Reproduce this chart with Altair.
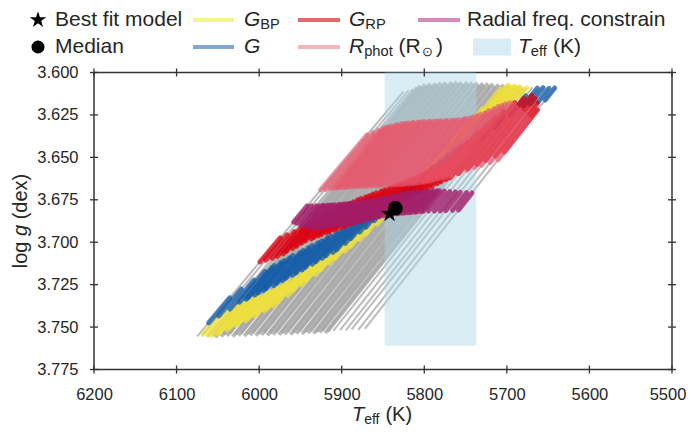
import altair as alt
import numpy as np
import pandas as pd

FONT = "Liberation Sans"
TXT = "#262626"

# ---------------- data ----------------
X_TICKS = [6200, 6100, 6000, 5900, 5800, 5700, 5600, 5500]
Y_TICKS = [3.600, 3.625, 3.650, 3.675, 3.700, 3.725, 3.750, 3.775]

# evolutionary tracks: (Teff, logg) at the hot/bottom end and at the cool/top end
TRACK_TEFF_BOTTOM = [6075, 6069, 6063, 6057, 6053, 6050, 6046, 6043, 6039, 6036,
                     6032, 6029, 6025, 6022, 6018, 6015, 6011, 6008, 6004, 6001,
                     5997, 5994, 5990, 5987, 5983, 5980, 5976, 5973, 5969, 5966,
                     5962, 5959, 5955, 5952, 5948, 5945, 5941, 5938, 5934, 5931,
                     5927, 5924, 5920, 5917, 5910, 5902, 5895, 5888, 5880, 5872]
TRACK_LOGG_BOTTOM = [3.7555, 3.7550, 3.7556, 3.7548, 3.7560, 3.7542, 3.7556, 3.7545, 3.7552, 3.7538,
                     3.7557, 3.7543, 3.7550, 3.7536, 3.7553, 3.7540, 3.7548, 3.7534, 3.7551, 3.7538,
                     3.7546, 3.7532, 3.7549, 3.7536, 3.7544, 3.7530, 3.7546, 3.7534, 3.7541, 3.7528,
                     3.7544, 3.7531, 3.7538, 3.7526, 3.7541, 3.7529, 3.7535, 3.7524, 3.7538, 3.7527,
                     3.7532, 3.7522, 3.7535, 3.7525, 3.7521, 3.7518, 3.7520, 3.7514, 3.7516, 3.7510]
TRACK_TEFF_TOP = [5825, 5819, 5814, 5809, 5805, 5803, 5799, 5796, 5793, 5790,
                  5786, 5784, 5780, 5777, 5774, 5771, 5767, 5765, 5761, 5758,
                  5755, 5752, 5748, 5746, 5742, 5739, 5736, 5733, 5729, 5727,
                  5723, 5720, 5717, 5714, 5710, 5708, 5704, 5701, 5698, 5695,
                  5691, 5689, 5685, 5682, 5676, 5669, 5663, 5656, 5649, 5642]
TRACK_LOGG_TOP = [3.6112, 3.6105, 3.6098, 3.6090, 3.6078, 3.6085, 3.6070, 3.6080, 3.6066, 3.6076,
                  3.6062, 3.6074, 3.6060, 3.6072, 3.6058, 3.6070, 3.6056, 3.6068, 3.6055, 3.6066,
                  3.6057, 3.6068, 3.6056, 3.6070, 3.6058, 3.6072, 3.6060, 3.6074, 3.6062, 3.6076,
                  3.6064, 3.6078, 3.6066, 3.6080, 3.6070, 3.6082, 3.6072, 3.6085, 3.6076, 3.6088,
                  3.6080, 3.6090, 3.6084, 3.6092, 3.6090, 3.6088, 3.6092, 3.6089, 3.6093, 3.6091]

# constraint bands: for a track starting at Teff, the logg range that satisfies it
GBP_TRACK_TEFF = [6072, 6056, 6035, 6011, 5987, 5963, 5951, 5943, 5938, 5914, 5904]
GBP_LOGG_FROM = [3.7540, 3.7552, 3.7475, 3.7375, 3.7163, 3.6922, 3.6568, 3.6327, 3.6221, 3.6162, 3.6133]
GBP_LOGG_TO = [3.7446, 3.7375, 3.7316, 3.7210, 3.7010, 3.6775, 3.6456, 3.6133, 3.6044, 3.6044, 3.6044]

G_TRACK_TEFF = [6075, 6056, 6035, 6011, 5987, 5963, 5951, 5938, 5914, 5896, 5872]
G_LOGG_FROM = [3.7475, 3.7346, 3.7269, 3.7163, 3.7045, 3.6816, 3.6692, 3.6574, 3.6362, 3.6197, 3.6162]
G_LOGG_TO = [3.7328, 3.7163, 3.7075, 3.6975, 3.6881, 3.6692, 3.6586, 3.6456, 3.6327, 3.6044, 3.6044]

GRP_TRACK_TEFF = [6075, 6056, 6035, 6011, 5987, 5963, 5951, 5938, 5926, 5914, 5896, 5884, 5872]
GRP_LOGG_FROM = [3.7116, 3.7081, 3.6987, 3.6928, 3.6875, 3.6798, 3.6745, 3.6698, 3.6651, 3.6610, 3.6545, 3.6504, 3.6468]
GRP_LOGG_TO = [3.6975, 3.6916, 3.6822, 3.6751, 3.6692, 3.6633, 3.6586, 3.6515, 3.6339, 3.6191, 3.6133, 3.6162, 3.6221]

RPHOT_TRACK_TEFF = [6075, 6056, 6035, 6011, 5987, 5963, 5951, 5938, 5926, 5914, 5896, 5872]
RPHOT_LOGG_FROM = [3.6692, 3.6680, 3.6674, 3.6668, 3.6663, 3.6657, 3.6651, 3.6639, 3.6621, 3.6604, 3.6562, 3.6515]
RPHOT_LOGG_TO = [3.6368, 3.6327, 3.6303, 3.6292, 3.6286, 3.6280, 3.6268, 3.6239, 3.6197, 3.6174, 3.6221, 3.6280]

RADIAL_TRACK_TEFF = [6075, 6056, 6035, 6011, 5987, 5963, 5951, 5938, 5926, 5914, 5896, 5872]
RADIAL_LOGG_FROM = [3.6881, 3.6904, 3.6916, 3.6898, 3.6881, 3.6845, 3.6833, 3.6828, 3.6822, 3.6816, 3.6816, 3.6810]
RADIAL_LOGG_TO = [3.6786, 3.6786, 3.6780, 3.6769, 3.6751, 3.6722, 3.6710, 3.6704, 3.6698, 3.6698, 3.6704, 3.6710]

TEFF_BOX = [5737, 5848]
LOGG_BOX = [3.600, 3.761]
BEST_FIT = [5842, 3.6833]
MEDIAN = [5835, 3.6800]

# ---------------- tables ----------------
tracks = pd.DataFrame({"t0": TRACK_TEFF_BOTTOM, "g0": TRACK_LOGG_BOTTOM,
                       "t1": TRACK_TEFF_TOP, "g1": TRACK_LOGG_TOP})
tracks_edge = tracks.iloc[list(range(0, 3)) + list(range(44, len(tracks)))]
tracks_core = tracks.iloc[3:44]


def band_segments(t_anchor, g_from, g_to):
    order = np.argsort(t_anchor)
    ta = np.asarray(t_anchor, float)[order]
    gf = np.asarray(g_from, float)[order]
    gto = np.asarray(g_to, float)[order]
    rows = []
    for tb, gb, tt, gtop in zip(TRACK_TEFF_BOTTOM, TRACK_LOGG_BOTTOM, TRACK_TEFF_TOP, TRACK_LOGG_TOP):
        if tb < ta[0] - 0.5 or tb > ta[-1] + 0.5:
            continue
        ga = min(float(np.interp(tb, ta, gf)), gb)
        gz = max(float(np.interp(tb, ta, gto)), gtop)
        if ga <= gz:
            continue
        fa = (gb - ga) / (gb - gtop)
        fz = (gb - gz) / (gb - gtop)
        rows.append({"t0": round(tb + fa * (tt - tb), 2), "g0": round(ga, 5),
                     "t1": round(tb + fz * (tt - tb), 2), "g1": round(gz, 5)})
    return pd.DataFrame(rows)


W, H = 578, 297
LABEL_PAD_X = 17
xs = alt.Scale(domain=[5500, 6200], reverse=True, nice=False, zero=False)
ys = alt.Scale(domain=[3.600, 3.775], reverse=True, nice=False, zero=False)
X_AXIS = alt.Axis(values=X_TICKS, format="d", title=None, ticks=False, domain=False, grid=False,
                  labelFlush=False, labelPadding=LABEL_PAD_X, labelFontSize=16.5, labelFont=FONT,
                  labelColor=TXT, labelExpr="datum.value == 5500 ? '' : datum.label")
Y_AXIS = alt.Axis(values=Y_TICKS, format=".3f", title=None, ticks=False, domain=False, grid=False,
                  labelFlush=False, labelPadding=16, labelFontSize=16.5, labelFont=FONT, labelColor=TXT)


def X(field):
    return alt.X(field, scale=xs, axis=X_AXIS)


def Y(field):
    return alt.Y(field, scale=ys, axis=Y_AXIS)


STAR = ("M0,-1L0.2245,-0.309L0.951,-0.309L0.363,0.118L0.588,0.809L0,0.382"
        "L-0.588,0.809L-0.363,0.118L-0.951,-0.309L-0.2245,-0.309Z")

ONE = alt.Data(values=[{"a": 1}])
FL = 21      # legend font size
FLS = 14.7   # legend subscript size
FT = 20      # axis title font size
FTS = 14     # axis title subscript size


def txt(s, x, y, size=FL, italic=False, angle=0, align="left"):
    kw = dict(text=s, font=FONT, fontSize=size, color=TXT, align=align, baseline="middle")
    if italic:
        kw["fontStyle"] = "italic"
    if angle:
        kw["angle"] = angle
    return alt.Chart(ONE).mark_text(**kw).encode(x=alt.value(x), y=alt.value(y))


def hline(x0, x1, y, color, width=4):
    return alt.Chart(ONE).mark_rule(color=color, strokeWidth=width).encode(
        x=alt.value(x0), x2=alt.value(x1), y=alt.value(y))


R1, R2 = -52.5, -25.5
SUB = 5
legend = [
    txt("Best fit model", -39, R1),
    txt("Median", -39, R2),
    hline(99, 140, R1, "#f7f38d"),
    txt("G", 150, R1, italic=True), txt("BP", 166.3, R1 + SUB, size=FLS),
    hline(99, 140, R2, "#80a9d6"),
    txt("G", 150, R2, italic=True),
    hline(204, 246, R1, "#e4686c"),
    txt("G", 255, R1, italic=True), txt("RP", 271.3, R1 + SUB, size=FLS),
    hline(204, 246, R2, "#f5b3bb"),
    txt("R", 255, R2, italic=True), txt("phot", 270.2, R2 + SUB, size=FLS),
    txt("(R", 304.6, R2), txt("\u2299", 327.5, R2 + SUB, size=12.5), txt(")", 342, R2),
    hline(324, 366, R1, "#d38bbb"),
    txt("Radial freq. constrain", 373, R1),
    alt.Chart(ONE).mark_rect(color="#d9ecf5").encode(
        x=alt.value(379), x2=alt.value(417), y=alt.value(R2 - 8.5), y2=alt.value(R2 + 8.5)),
    txt("T", 424, R2, italic=True), txt("eff", 436.8, R2 + SUB, size=FLS), txt("(K)", 459, R2),
]

TY = 342
titles = [
    txt("T", 258, TY, size=FT, italic=True), txt("eff", 270.2, TY + SUB, size=FTS),
    txt("(K)", 291.4, TY, size=FT),
    txt("log ", -73, 195.7, size=FT, angle=270), txt("g", -73, 163.5, size=FT, angle=270, italic=True),
    txt("(dex)", -73, 146.8, size=FT, angle=270),
]

# last x tick label, nudged so it stays inside the page
last_label = alt.Chart(pd.DataFrame({"t0": X_TICKS[-1:], "lab": [str(X_TICKS[-1])]})).mark_text(
    font=FONT, fontSize=16.5, color=TXT, align="center", baseline="top", dx=-4).encode(
    x=X("t0:Q"), y=alt.value(H + LABEL_PAD_X), text="lab:N")

gray_edge = alt.Chart(tracks_edge).mark_rule(color="#a6a6a6", strokeWidth=2.0, opacity=0.75).encode(
    x=X("t0:Q"), y=Y("g0:Q"), x2="t1:Q", y2="g1:Q")
gray_core = alt.Chart(tracks_core).mark_rule(color="#a6a6a6", strokeWidth=3.6, opacity=0.8).encode(
    x=X("t0:Q"), y=Y("g0:Q"), x2="t1:Q", y2="g1:Q")

box = alt.Chart(pd.DataFrame({"t0": [TEFF_BOX[0]], "t1": [TEFF_BOX[1]],
                              "g0": [LOGG_BOX[0]], "g1": [LOGG_BOX[1]]})).mark_rect(
    color="#add8e6", opacity=0.45).encode(x=X("t0:Q"), x2="t1:Q", y=Y("g0:Q"), y2="g1:Q")


def band_layer(df, color, opacity, width=5):
    return alt.Chart(df).mark_rule(color=color, opacity=opacity, strokeWidth=width,
                                   strokeCap="round").encode(
        x=X("t0:Q"), y=Y("g0:Q"), x2="t1:Q", y2="g1:Q")


l_gbp = band_layer(band_segments(GBP_TRACK_TEFF, GBP_LOGG_FROM, GBP_LOGG_TO), "#efe23a", 0.75)
l_g = band_layer(band_segments(G_TRACK_TEFF, G_LOGG_FROM, G_LOGG_TO), "#135ca8", 0.75)
l_grp = band_layer(band_segments(GRP_TRACK_TEFF, GRP_LOGG_FROM, GRP_LOGG_TO), "#dc0010", 0.75)
l_rphot = band_layer(band_segments(RPHOT_TRACK_TEFF, RPHOT_LOGG_FROM, RPHOT_LOGG_TO), "#e9556a", 0.62)
l_rad = band_layer(band_segments(RADIAL_TRACK_TEFF, RADIAL_LOGG_FROM, RADIAL_LOGG_TO), "#a21c68", 0.78)

# frame ticks (in and out) on all four sides
TK = 4
xt = pd.DataFrame({"t0": X_TICKS})
yt = pd.DataFrame({"g0": Y_TICKS})
tick_style = dict(color="#333333", strokeWidth=1.3)
ticks = [
    alt.Chart(xt).mark_rule(**tick_style).encode(x=X("t0:Q"), y=alt.value(H - TK), y2=alt.value(H + TK)),
    alt.Chart(xt).mark_rule(**tick_style).encode(x=X("t0:Q"), y=alt.value(-TK), y2=alt.value(TK)),
    alt.Chart(yt).mark_rule(**tick_style).encode(y=Y("g0:Q"), x=alt.value(-TK), x2=alt.value(TK)),
    alt.Chart(yt).mark_rule(**tick_style).encode(y=Y("g0:Q"), x=alt.value(W - TK), x2=alt.value(W + TK)),
]

star = alt.Chart(pd.DataFrame({"t0": [BEST_FIT[0]], "g0": [BEST_FIT[1]]})).mark_point(
    shape=STAR, filled=True, color="black", opacity=1, size=330).encode(x=X("t0:Q"), y=Y("g0:Q"))
circ = alt.Chart(pd.DataFrame({"t0": [MEDIAN[0]], "g0": [MEDIAN[1]]})).mark_circle(
    color="black", opacity=1, size=215).encode(x=X("t0:Q"), y=Y("g0:Q"))

leg_star = alt.Chart(ONE).mark_point(shape=STAR, filled=True, color="black", opacity=1,
                                     size=300).encode(x=alt.value(-56), y=alt.value(R1))
leg_circ = alt.Chart(ONE).mark_circle(color="black", opacity=1, size=170).encode(
    x=alt.value(-56), y=alt.value(R2))

chart = alt.layer(gray_edge, gray_core, box, l_gbp, l_g, l_grp, l_rphot, l_rad,
                  star, circ, *ticks, last_label, *legend, leg_star, leg_circ, *titles).properties(
    width=W, height=H,
    background="white",
    autosize=alt.AutoSizeParams(type="none"),
    padding={"left": 86, "top": 64.5, "right": 14, "bottom": 60},
).configure_view(stroke="#333333", strokeWidth=1.5)

chart.save("out.html", embed_options={"renderer": "svg", "actions": False})
